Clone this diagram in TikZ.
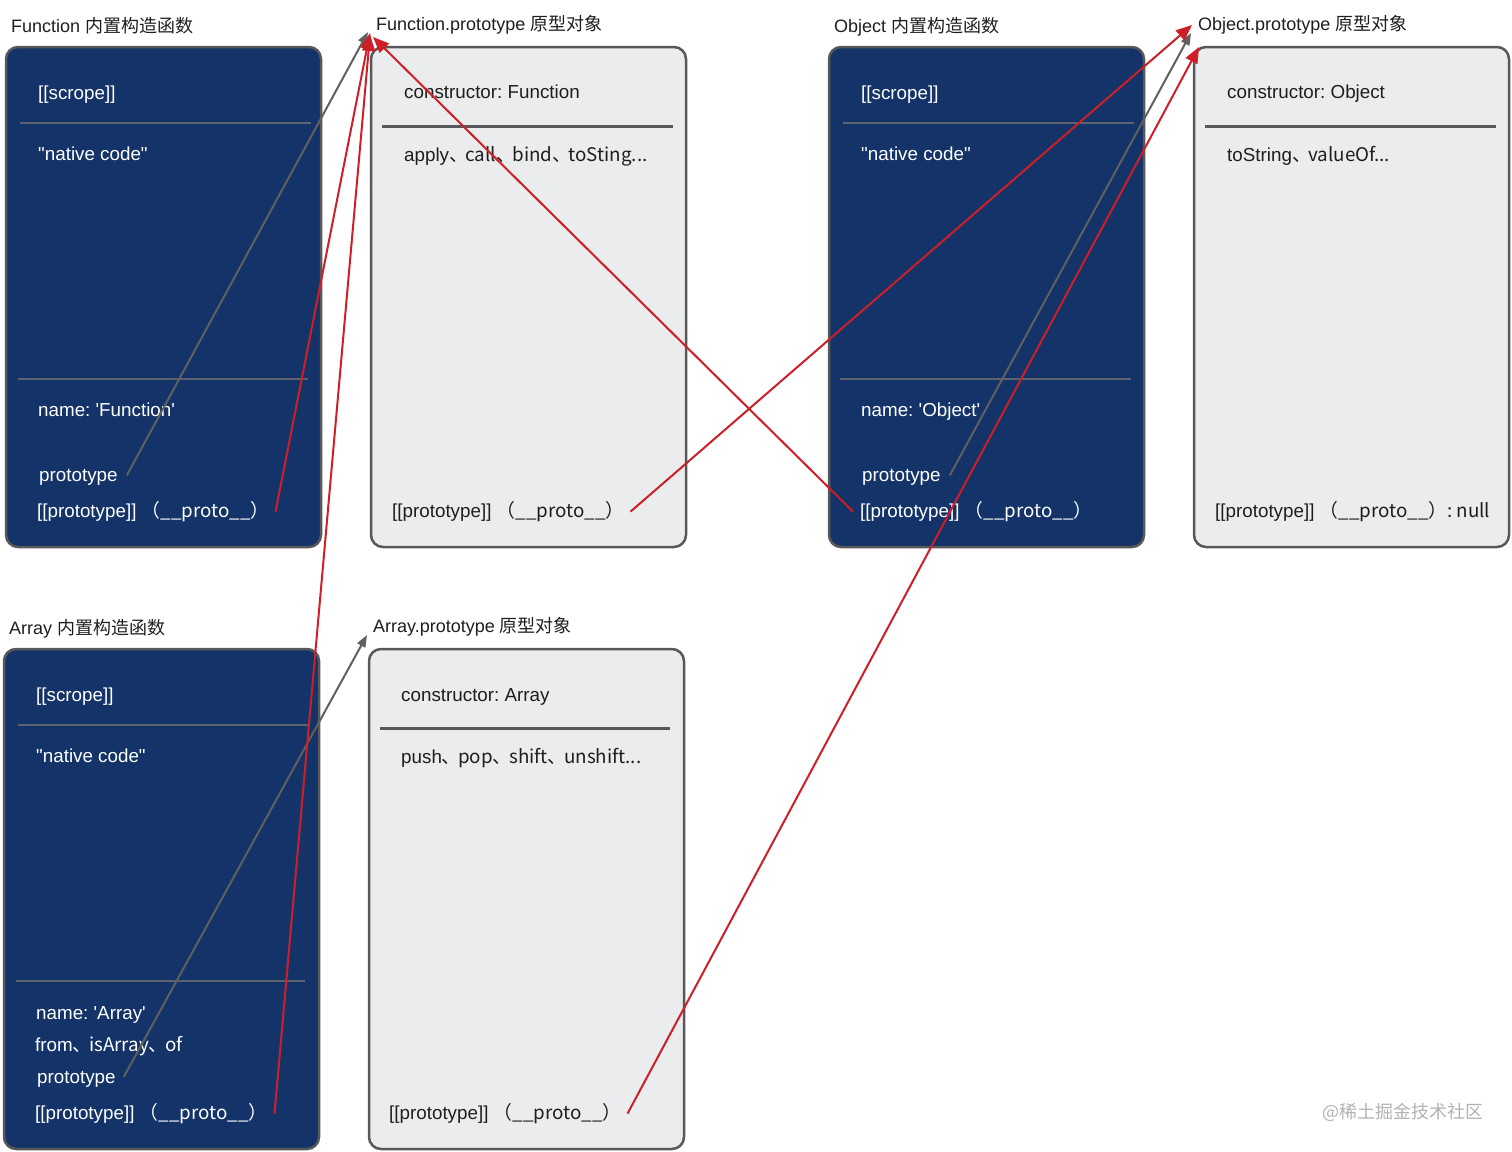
\documentclass[tikz,border=0pt]{standalone}
\usepackage{fontspec}
\setmainfont{Liberation Sans}
\newfontfamily\cjk{Noto Sans CJK SC}
\usetikzlibrary{arrows.meta}
\frenchspacing

\definecolor{ctorfill}{RGB}{19,51,105}
\definecolor{protofill}{RGB}{235,236,238}
\definecolor{rim}{RGB}{88,88,90}
\definecolor{darkrule}{RGB}{92,98,110}
\definecolor{linkred}{RGB}{206,30,38}
\definecolor{linkgray}{RGB}{96,96,96}
\definecolor{inkgray}{RGB}{30,30,30}
\definecolor{wmgray}{RGB}{178,178,178}

\tikzset{
    ctorbox/.style={draw=rim, fill=ctorfill, line width=2.5pt, rounded corners=12pt,
        minimum width=315pt, minimum height=500pt, inner sep=0pt, outer sep=0pt, anchor=north west},
    protobox/.style={ctorbox, fill=protofill},
    ctorrule/.style={draw=darkrule, line width=2.5pt},
    protorule/.style={draw=rim, line width=3pt},
    txt/.style={anchor=base west, inner sep=0pt, font=\fontsize{18.8}{23}\selectfont},
    ctortxt/.style={txt, text=white},
    prototxt/.style={txt, text=inkgray},
    boxtitle/.style={txt, text=inkgray, font=\fontsize{18}{22}\selectfont},
    redlink/.style={draw=linkred, line width=2pt, -{Triangle[length=16pt, width=13pt]}},
    graylink/.style={draw=linkgray, line width=2pt, -{Triangle[length=12pt, width=9pt]}}
}

\newcommand{\protoline}{[[prototype]] \cjk{（}\_\_proto\_\_\cjk{）}}
\newcommand{\dun}{\cjk{、}\kern-2.5pt}

\begin{document}
\begin{tikzpicture}[x=1pt, y=-1pt]
    \useasboundingbox (0,0) rectangle (1512,1151);

    % boxes
    \foreach \boxname/\kind/\x/\y in {fc/ctorbox/6/47, fp/protobox/371/47, oc/ctorbox/829/47,
        op/protobox/1194/47, ac/ctorbox/4/649, ap/protobox/369/649}
        \node[\kind] (\boxname) at (\x,\y) {};

    \draw[ctorrule] (20,123) -- (311,123);
    \draw[ctorrule] (18,379) -- (308,379);
    \draw[protorule] (382,126) -- (673,126);
    \draw[ctorrule] (843,123) -- (1134,123);
    \draw[ctorrule] (840,379) -- (1131,379);
    \draw[protorule] (1205,126) -- (1496,126);
    \draw[ctorrule] (18,725) -- (308,725);
    \draw[ctorrule] (16,981) -- (305,981);
    \draw[protorule] (380,728) -- (670,728);

    % titles
    \node[boxtitle] (fctitle) at (11,32) {Function \cjk{内置构造函数}};
    \node[boxtitle] (fptitle) at (376,30) {Function.prototype \cjk{原型对象}};
    \node[boxtitle] (octitle) at (834,32) {Object \cjk{内置构造函数}};
    \node[boxtitle] (optitle) at (1198,30) {Object.prototype \cjk{原型对象}};
    \node[boxtitle] (actitle) at (9,634) {Array \cjk{内置构造函数}};
    \node[boxtitle] (aptitle) at (373,632) {Array.prototype \cjk{原型对象}};

    % Function
    \node[ctortxt] (fcscope) at (38,99) {[[scrope]]};
    \node[ctortxt] (fccode) at (38,160.5) {\textquotedbl native code\textquotedbl};
    \node[ctortxt] (fcname) at (38,416.5) {name: \textquotesingle Function\textquotesingle};
    \node[ctortxt] (fcprot) at (39,481.5) {prototype};
    \node[ctortxt] (fcpp) at (37,517.5) {\protoline};

    % Function.prototype
    \node[prototxt] (fpctor) at (404,98.5) {constructor: Function};
    \node[prototxt] (fpmeth) at (404,161.5) {apply\dun call\dun bind\dun toSting...};
    \node[prototxt] (fppp) at (392,517.5) {\protoline};

    % Object
    \node[ctortxt] (ocscope) at (861,99) {[[scrope]]};
    \node[ctortxt] (occode) at (861,160.5) {\textquotedbl native code\textquotedbl};
    \node[ctortxt] (ocname) at (861,416.5) {name: \textquotesingle Object\textquotesingle};
    \node[ctortxt] (ocprot) at (862,481.5) {prototype};
    \node[ctortxt] (ocpp) at (860,517.5) {\protoline};

    % Object.prototype
    \node[prototxt] (opctor) at (1227,98.5) {constructor: Object};
    \node[prototxt] (opmeth) at (1227,161.5) {toString\dun valueOf...};
    \node[prototxt] (oppp) at (1215,517.5) {\protoline{}: null};

    % Array
    \node[ctortxt] (acscope) at (36,701.5) {[[scrope]]};
    \node[ctortxt] (accode) at (36,762.5) {\textquotedbl native code\textquotedbl};
    \node[ctortxt] (acname) at (36,1019) {name: \textquotesingle Array\textquotesingle};
    \node[ctortxt] (acstat) at (35,1051.5) {from\dun isArray\dun of};
    \node[ctortxt] (acprot) at (37,1083) {prototype};
    \node[ctortxt] (acpp) at (35,1119.5) {\protoline};

    % Array.prototype
    \node[prototxt] (apctor) at (401,701.5) {constructor: Array};
    \node[prototxt] (apmeth) at (401,763) {push\dun pop\dun shift\dun unshift...};
    \node[prototxt] (appp) at (389,1119.5) {\protoline};

    \node[anchor=base west, inner sep=0pt, text=wmgray, font=\cjk\fontsize{18}{22}\selectfont] (wm) at (1322,1118) {@稀土掘金技术社区};

    % arrow ends
    \coordinate (fpgray) at (368,32);
    \coordinate (fpred1) at (370,33);
    \coordinate (fpred2) at (370,35);
    \coordinate (fpred3) at (373,37);
    \coordinate (opred1) at (1192,25);
    \coordinate (opgray) at (1191,33);
    \coordinate (opred2) at (1199,47);
    \coordinate (apgray) at (367,635);

    % prototype
    \draw[graylink] ([xshift=9pt, yshift=2pt]fcprot.east) -- (fpgray);
    \draw[graylink] ([xshift=9pt, yshift=2pt]ocprot.east) -- (opgray);
    \draw[graylink] ([xshift=8pt, yshift=2pt]acprot.east) -- (apgray);

    % [[prototype]]
    \draw[redlink] ([xshift=6pt]fcpp.east) -- (fpred1);
    \draw[redlink] ([xshift=7pt]acpp.east) -- (fpred2);
    \draw[redlink] ([xshift=-7pt]ocpp.west) -- (fpred3);
    \draw[redlink] ([xshift=6pt]fppp.east) -- (opred1);
    \draw[redlink] ([xshift=6pt]appp.east) -- (opred2);
\end{tikzpicture}
\end{document}
